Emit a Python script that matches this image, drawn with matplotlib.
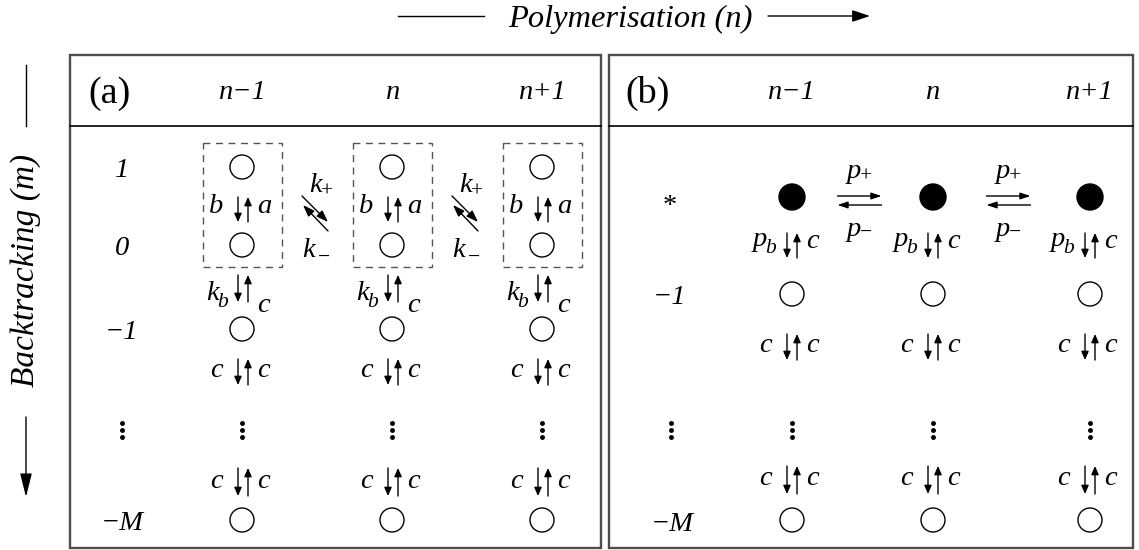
import matplotlib
matplotlib.use('Agg')
import matplotlib.pyplot as plt
from matplotlib.patches import Circle, Rectangle

plt.rcParams['font.family'] = ['Liberation Serif', 'DejaVu Serif']

# ---------------- content ----------------
title_text = 'Polymerisation (n)'
ylabel_text = 'Backtracking (m)'
panel_tags = ['(a)', '(b)']
col_labels = ['n\u22121', 'n', 'n+1']
rows_a = ['1', '0', '\u22121', 'vdots', '\u2212M']
rows_b = ['*', '\u22121', 'vdots', '\u2212M']
switch_rates_a = ('b', 'a')
bind_rates_a = (('k', 'b'), 'c')
chain_rates = ('c', 'c')
bind_rates_b = (('p', 'b'), 'c')
poly_rates_a = (('k', '+'), ('k', '\u2212'))
poly_rates_b = (('p', '+'), ('p', '\u2212'))

# ---------------- layout (pixels) ----------------
W, H = 1139, 550
fig = plt.figure(figsize=(W / 100, H / 100), dpi=100)
ax = fig.add_axes([0, 0, 1, 1])
ax.set_xlim(0, W)
ax.set_ylim(H, 0)
ax.axis('off')
renderer = fig.canvas.get_renderer()

FS = 20.5
SUBFS = 15.5
FRAME = '#4d4d4d'
cols_a = [243, 393, 543]
cols_b = [792, 933, 1090]
R = 12


def txt(x, y, s, size=FS, ha='center', va='baseline', style='italic', **kw):
    return ax.text(x, y, s, fontsize=size, ha=ha, va=va, style=style, color='k', **kw)


def width(t):
    return t.get_window_extent(renderer).width


def label(x, y, lab, ha='center', sub_dy=7, kern=-2):
    """plain string, or (base, subscript) tuple drawn as two texts"""
    if isinstance(lab, str):
        return txt(x, y, lab, ha=ha)
    base, sub = lab
    tb = txt(0, y, base, ha='left')
    ts = txt(0, y + sub_dy, sub, size=SUBFS, ha='left',
             style='italic' if sub.isalpha() else 'normal')
    wb, ws = width(tb), width(ts)
    total = wb + kern + ws
    left = {'left': x, 'right': x - total, 'center': x - total / 2}[ha]
    tb.set_x(left)
    ts.set_x(left + wb + kern)


def arrow(x0, y0, x1, y1, hl=0.5, hw=0.22, ms=10, lw=1.0):
    ax.annotate('', xy=(x1, y1), xytext=(x0, y0),
                arrowprops=dict(arrowstyle=f'-|>,head_length={hl},head_width={hw}',
                                mutation_scale=ms, lw=lw, color='k', fc='k',
                                shrinkA=0, shrinkB=0))


def updown(xc, y0, y1, left, right, base, lgap=20, rgap=14, lbase=None, rbase=None):
    arrow(xc - 5, y0, xc - 5, y1)
    arrow(xc + 5, y1, xc + 5, y0)
    label(xc - lgap, base if lbase is None else lbase, left, ha='right')
    label(xc + rgap, base if rbase is None else rbase, right, ha='left')


def circ(x, y, filled=False, r=R):
    ax.add_patch(Circle((x, y), r, fc='k' if filled else 'white', ec='k', lw=1.0))


def vdots(x, y):
    ax.plot([x, x, x], [y - 7, y, y + 7], ls='none', marker='o', ms=2.5, color='k')


# ---------------- title & side label ----------------
txt(630, 27, title_text, size=23.4)
ax.plot([398, 484], [16, 16], color='k', lw=1.0)
arrow(768, 16, 870, 16, hl=0.9, hw=0.3, ms=12)

ax.plot([26, 26], [65, 126], color='k', lw=1.0)
ax.text(26, 270, ylabel_text, fontsize=24, style='italic', rotation=90,
        ha='center', va='center')
arrow(26, 417, 26, 497, hl=1.2, hw=0.3, ms=12)

# ---------------- frames ----------------
for x0, x1 in [(70, 601), (609, 1133)]:
    ax.add_patch(Rectangle((x0, 55), x1 - x0, 493, fill=False, ec=FRAME, lw=1.7))
    ax.plot([x0, x1], [126, 126], color='k', lw=1.2)

# headers
txt(110, 103, panel_tags[0], size=27.5, style='normal')
txt(648, 103, panel_tags[1], size=27.5, style='normal')
for x, lab in zip(cols_a, col_labels):
    txt(x, 99, lab)
for x, lab in zip(cols_b, col_labels):
    txt(x, 99, lab)

# ---------------- panel (a) ----------------
ya = [167, 245, 329, 430, 520]
for y, lab in zip(ya, rows_a):
    if lab == 'vdots':
        vdots(122, y)
    else:
        txt(122, y + 10, lab)

for x in cols_a:
    ax.add_patch(Rectangle((x - 40, 143), 79, 124, fill=False, ec='#555555',
                           lw=1.0, ls=(0, (5, 4))))
    circ(x - 1, ya[0])
    circ(x - 1, ya[1])
    updown(x, 197, 222, switch_rates_a[0], switch_rates_a[1], 213)
    updown(x, 275, 302, bind_rates_a[0], bind_rates_a[1], 300, lgap=15,
           rbase=312)
    circ(x - 1, ya[2])
    updown(x, 359, 385, chain_rates[0], chain_rates[1], 377)
    vdots(x - 1, ya[3])
    updown(x, 468, 496, chain_rates[0], chain_rates[1], 488)
    circ(x - 1, ya[4])

for i in range(2):
    mid = (cols_a[i] + cols_a[i + 1]) / 2
    arrow(mid - 16, 196, mid + 10, 222, hl=0.7, hw=0.25)
    arrow(mid + 10, 231, mid - 15, 205, hl=0.7, hw=0.25)
    label(mid + 3, 192, poly_rates_a[0], sub_dy=5, kern=-1)
    label(mid - 2, 257, poly_rates_a[1], sub_dy=6, kern=3)

# ---------------- panel (b) ----------------
yb = [197, 294, 430, 520]
txt(670, 213, rows_b[0], style='normal')
txt(670, yb[1] + 10, rows_b[1])
vdots(671, yb[2])
txt(672, yb[3] + 11, rows_b[3])

for x in cols_b:
    circ(x, yb[0], filled=True, r=13)
    updown(x, 233, 258, bind_rates_b[0], bind_rates_b[1], 246, lgap=16,
           rbase=248)
    circ(x, yb[1])
    updown(x, 334, 360, chain_rates[0], chain_rates[1], 352)
    vdots(x, yb[2])
    updown(x, 466, 494, chain_rates[0], chain_rates[1], 485)
    circ(x, yb[3])

for i in range(2):
    mid = (cols_b[i] + cols_b[i + 1]) / 2 - 3
    arrow(mid - 22, 196, mid + 22, 196, hl=0.6, hw=0.2)
    arrow(mid + 22, 205, mid - 22, 205, hl=0.6, hw=0.2)
    label(mid, 178, poly_rates_b[0], sub_dy=4, kern=-1)
    label(mid, 236, poly_rates_b[1], sub_dy=2, kern=-1)

fig.savefig('out.png', dpi=100)
